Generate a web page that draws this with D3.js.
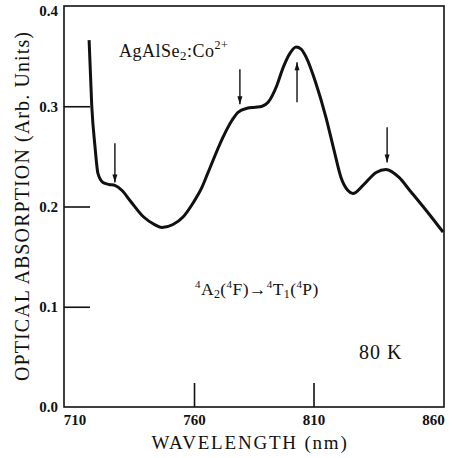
<!DOCTYPE html>
<html><head><meta charset="utf-8">
<script src="https://cdn.jsdelivr.net/npm/d3@7"></script>
<style>
html,body{margin:0;padding:0;background:#fff;}
svg{display:block;}
text{font-family:"Liberation Serif","DejaVu Serif",serif;fill:#111;}
</style></head>
<body><svg id="c" width="452" height="458"></svg>
<script>
// Data
const wavelength = [716.1,717.2,718.6,719.8,721.9,724.4,726.9,729.9,733.2,738.7,743.5,746.6,751.2,755.4,759.6,763.3,765.9,772.1,775.9,778.4,782.2,785.5,788.5,791.0,794.7,797.2,800.2,802.7,804.8,806.9,811.0,815.2,818.6,821.5,824.4,826.5,830.7,836.2,840.3,845.8,850.3,857.5,864.2];
const absorption = [0.366,0.301,0.259,0.233,0.224,0.222,0.221,0.216,0.206,0.190,0.182,0.179,0.182,0.1895,0.2035,0.219,0.234,0.269,0.286,0.294,0.298,0.299,0.300,0.304,0.321,0.338,0.353,0.359,0.357,0.349,0.323,0.289,0.256,0.229,0.216,0.213,0.221,0.234,0.237,0.229,0.216,0.195,0.1745];
const xTicks = [710,760,810,860];
const yTicks = [0.0,0.1,0.2,0.3,0.4];
// arrows: wavelength, tail value, head value
const arrowNm   = [726.9, 779.2, 803.1, 840.8];
const arrowFrom = [0.263, 0.337, 0.304, 0.279];
const arrowTo   = [0.224, 0.302, 0.344, 0.244];

const svg = d3.select("#c");
const L=64, T=6, R=444, B=407;
const x = d3.scaleLinear().domain([705.6,864.6]).range([L,R]);
const y = d3.scaleLinear().domain([0,0.4]).range([B,T]);

// frame
svg.append("rect").attr("x",L).attr("y",T).attr("width",R-L).attr("height",B-T)
  .attr("fill","none").attr("stroke","#111").attr("stroke-width",1.6);

// y axis
const ya = svg.append("g").attr("transform",`translate(${L},0)`)
  .call(d3.axisLeft(y).tickValues(yTicks).tickFormat(d3.format(".1f")).tickSizeInner(-26).tickSizeOuter(0).tickPadding(6));
ya.select(".domain").remove();
ya.selectAll(".tick line").attr("stroke","#111").attr("stroke-width",1.6)
  .filter(d=>d===0||d===0.4).remove();
ya.selectAll(".tick text").style("font-family","'Liberation Serif',serif").style("font-weight","bold").style("font-size","15px").attr("fill","#111");
ya.selectAll(".tick text").filter(d=>d===0.4).attr("dy","0.62em");

// x axis
const xa = svg.append("g").attr("transform",`translate(0,${B})`)
  .call(d3.axisBottom(x).tickValues(xTicks).tickFormat(d3.format("d")).tickSizeInner(-24).tickSizeOuter(0).tickPadding(7));
xa.select(".domain").remove();
xa.selectAll(".tick line").attr("stroke","#111").attr("stroke-width",1.6)
  .filter(d=>d===710||d===860).remove();
xa.selectAll(".tick text").style("font-family","'Liberation Serif',serif").style("font-weight","bold").style("font-size","15px").attr("fill","#111");

// curve
const pts = wavelength.map((w,i)=>[w,absorption[i]]);
svg.append("path").datum(pts)
  .attr("d", d3.line().x(d=>x(d[0])).y(d=>y(d[1])).curve(d3.curveMonotoneX))
  .attr("fill","none").attr("stroke","#111").attr("stroke-width",3).attr("stroke-linejoin","round");

// arrows
arrowNm.forEach((w,i)=>{
  const x0=x(w), y0=y(arrowFrom[i]), y1=y(arrowTo[i]);
  const dir = y1>y0 ? 1 : -1;
  svg.append("line").attr("x1",x0).attr("x2",x0).attr("y1",y0).attr("y2",y1)
    .attr("stroke","#111").attr("stroke-width",1.4);
  svg.append("path").attr("d",`M${x0-2.5},${y1-dir*8}L${x0},${y1}L${x0+2.5},${y1-dir*8}Z`)
    .attr("fill","#111");
});

// labels
svg.append("text").attr("transform",`translate(29,206) rotate(-90)`).attr("text-anchor","middle")
  .style("font-size","20px").style("letter-spacing","1.1px").text("OPTICAL ABSORPTION (Arb. Units)");
svg.append("text").attr("x",250).attr("y",449).attr("text-anchor","middle")
  .style("font-size","19px").style("letter-spacing","1.8px").text("WAVELENGTH (nm)");

// AgAlSe2:Co2+
const t1 = svg.append("text").attr("x",119).attr("y",57).style("font-size","18px").style("letter-spacing","0.5px");
t1.append("tspan").text("AgAlSe");
t1.append("tspan").attr("dy",3).style("font-size","13px").text("2");
t1.append("tspan").attr("dy",-3).text(":Co");
t1.append("tspan").attr("dy",-8).style("font-size","12px").text("2+");

// 4A2(4F) -> 4T1(4P)
const t2 = svg.append("text").attr("x",195).attr("y",295).style("font-size","17.5px").style("letter-spacing","0.4px");
const sup=(s)=>{t2.append("tspan").attr("dy",-7).style("font-size","11px").text(s);};
const nor=(s,dy)=>{t2.append("tspan").attr("dy",dy).text(s);};
const sub=(s)=>{t2.append("tspan").attr("dy",3).style("font-size","12px").text(s);};
sup("4"); nor("A",7); sub("2"); nor("(",-3); sup("4"); nor("F)\u2192",7); sup("4"); nor("T",7); sub("1"); nor("(",-3); sup("4"); nor("P)",7);

svg.append("text").attr("x",359).attr("y",359).style("font-size","20px").style("letter-spacing","1px").text("80 K");
</script></body></html>
